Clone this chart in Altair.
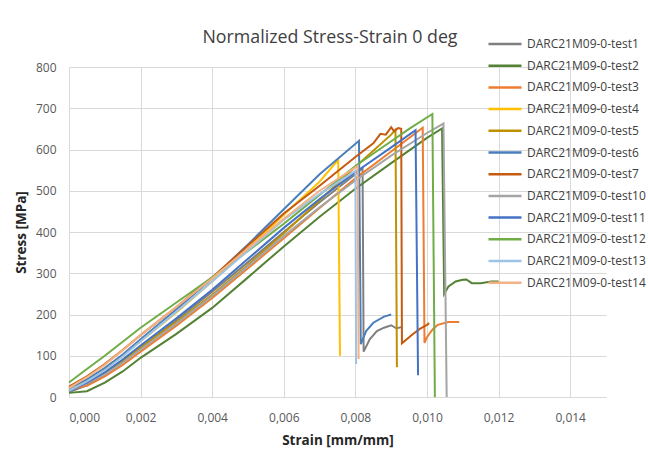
import altair as alt
import pandas as pd

# Series names and Excel-style colours
names = [
    "DARC21M09-0-test1", "DARC21M09-0-test2", "DARC21M09-0-test3",
    "DARC21M09-0-test4", "DARC21M09-0-test5", "DARC21M09-0-test6",
    "DARC21M09-0-test7", "DARC21M09-0-test10", "DARC21M09-0-test11",
    "DARC21M09-0-test12", "DARC21M09-0-test13", "DARC21M09-0-test14",
]
colors = [
    "#7F7F7F", "#548235", "#ED7D31", "#FFC000", "#BF9000", "#4A7EBB",
    "#C55A11", "#A5A5A5", "#4472C4", "#70AD47", "#9DC3E6", "#F4B183",
]

# Strain [mm/mm] / stress [MPa] samples per specimen
strain_1 = [0, 0.0005, 0.001, 0.0015, 0.002, 0.003, 0.004, 0.005, 0.006, 0.007, 0.008, 0.0082,
            0.00823, 0.0084, 0.0086, 0.0088, 0.0090, 0.00915, 0.0093]
stress_1 = [12, 28, 55, 86, 120, 186, 255, 327, 400, 472, 540, 555,
            110, 140, 160, 168, 174, 166, 170]

strain_2 = [0, 0.0005, 0.001, 0.0015, 0.002, 0.003, 0.004, 0.005, 0.006, 0.007, 0.008, 0.009,
            0.010, 0.01042, 0.01048, 0.0106, 0.0108, 0.0110, 0.0111, 0.01125, 0.0115, 0.0118, 0.0120]
stress_2 = [10, 14, 35, 62, 95, 153, 216, 290, 365, 437, 505, 567,
            628, 651, 250, 268, 280, 284, 285, 276, 276, 280, 280]

strain_3 = [0, 0.0005, 0.001, 0.0015, 0.002, 0.003, 0.004, 0.005, 0.006, 0.007, 0.008, 0.009,
            0.00988, 0.00993, 0.0100, 0.01015, 0.0103, 0.0106, 0.0109]
stress_3 = [20, 27, 50, 78, 110, 173, 240, 312, 385, 458, 530, 595,
            653, 131, 145, 163, 175, 182, 182]

strain_4 = [0, 0.0005, 0.001, 0.0015, 0.002, 0.003, 0.004, 0.005, 0.006, 0.007, 0.00752, 0.00757]
stress_4 = [20, 42, 70, 101, 135, 205, 280, 360, 442, 522, 575, 100]

strain_5 = [0, 0.0005, 0.001, 0.0015, 0.002, 0.003, 0.004, 0.005, 0.006, 0.007, 0.008, 0.009,
            0.00912, 0.00916]
stress_5 = [18, 35, 60, 88, 120, 182, 248, 320, 397, 477, 558, 636, 648, 72]

strain_6 = [0, 0.0005, 0.001, 0.0015, 0.002, 0.003, 0.004, 0.005, 0.006, 0.007, 0.0081,
            0.00815, 0.0083, 0.0085, 0.0088, 0.0090]
stress_6 = [22, 42, 70, 103, 140, 212, 288, 370, 455, 540, 621, 128, 160, 180, 195, 200]

strain_7 = [0, 0.0005, 0.001, 0.0015, 0.002, 0.003, 0.004, 0.005, 0.006, 0.007, 0.008, 0.0085,
            0.0087, 0.00885, 0.0090, 0.00908, 0.0092, 0.00928, 0.0093, 0.0096, 0.0098, 0.0100, 0.01006]
stress_7 = [25, 50, 80, 114, 150, 218, 290, 367, 445, 512, 582, 615,
            638, 636, 654, 644, 652, 650, 130, 152, 165, 175, 179]

strain_10 = [0, 0.0005, 0.001, 0.0015, 0.002, 0.003, 0.004, 0.005, 0.006, 0.007, 0.008, 0.009,
             0.010, 0.01046, 0.01055]
stress_10 = [20, 33, 55, 83, 115, 178, 245, 317, 390, 460, 525, 585, 640, 663, 0]

strain_11 = [0, 0.0005, 0.001, 0.0015, 0.002, 0.003, 0.004, 0.005, 0.006, 0.007, 0.008, 0.009,
             0.00968, 0.00975]
stress_11 = [15, 35, 60, 91, 125, 191, 260, 335, 410, 480, 545, 605, 647, 53]

strain_12 = [0, 0.0005, 0.001, 0.0015, 0.002, 0.003, 0.004, 0.005, 0.006, 0.007, 0.008, 0.009,
             0.0095, 0.01015, 0.01022]
stress_12 = [35, 68, 100, 134, 168, 229, 290, 354, 420, 490, 560, 620, 650, 686, 0]

strain_13 = [0, 0.0005, 0.001, 0.0015, 0.002, 0.003, 0.004, 0.005, 0.006, 0.007, 0.0080, 0.00802]
stress_13 = [15, 38, 65, 98, 135, 207, 280, 355, 430, 492, 548, 80]

strain_14 = [0, 0.0005, 0.001, 0.0015, 0.002, 0.003, 0.004, 0.005, 0.006, 0.007, 0.00806, 0.00809]
stress_14 = [22, 48, 78, 113, 150, 218, 288, 360, 432, 500, 560, 92]

x_ticks = [0, 0.002, 0.004, 0.006, 0.008, 0.010, 0.012, 0.014]
y_ticks = [0, 100, 200, 300, 400, 500, 600, 700, 800]

curves = [
    (strain_1, stress_1), (strain_2, stress_2), (strain_3, stress_3),
    (strain_4, stress_4), (strain_5, stress_5), (strain_6, stress_6),
    (strain_7, stress_7), (strain_10, stress_10), (strain_11, stress_11),
    (strain_12, stress_12), (strain_13, stress_13), (strain_14, stress_14),
]

rows = []
for name, (xs, ys) in zip(names, curves):
    for i, (e, s) in enumerate(zip(xs, ys)):
        rows.append({"series": name, "i": i, "strain": e, "stress": s})
df = pd.DataFrame(rows)

FONT = "Open Sans"
GRID = "#D9D9D9"

lines = alt.Chart(df).mark_line(strokeWidth=2, strokeJoin="miter").encode(
    x=alt.X(
        "strain:Q",
        scale=alt.Scale(domain=[0, 0.015], nice=False, zero=True),
        axis=alt.Axis(
            values=x_ticks,
            labelExpr="replace(format(datum.value, '.3f'), '.', ',')",
            title="Strain [mm/mm]",
            grid=True,
            gridColor=GRID,
            domain=True,
            domainColor=GRID,
            ticks=False,
            labelPadding=15,
            titlePadding=10,
        ),
    ),
    y=alt.Y(
        "stress:Q",
        scale=alt.Scale(domain=[0, 800], nice=False),
        axis=alt.Axis(
            values=y_ticks,
            title="Stress [MPa]",
            grid=True,
            gridColor=GRID,
            domain=False,
            ticks=False,
            labelPadding=13,
            titlePadding=7,
        ),
    ),
    color=alt.Color(
        "series:N",
        scale=alt.Scale(domain=names, range=colors),
        legend=alt.Legend(
            title=None,
            orient="none",
            legendX=429,
            legendY=-30,
            padding=0,
            symbolType="M-3,0H3",
            symbolSize=121,
            symbolStrokeWidth=2.5,
            labelOffset=15,
            rowPadding=8.7,
            labelFont=FONT,
            labelFontSize=12,
            labelColor="#404040",
            labelLimit=200,
        ),
    ),
    order="i:Q",
)

title = alt.Chart().mark_text(
    text="Normalized Stress-Strain 0 deg",
    font=FONT,
    fontSize=17.8,
    color="#404040",
    align="center",
    baseline="middle",
).encode(x=alt.value(261), y=alt.value(-29))

chart = alt.layer(lines, title).properties(
    width=537,
    height=330,
    padding={"left": 69, "top": 67, "right": 42, "bottom": 53},
    autosize=alt.AutoSizeParams(type="none"),
).configure_view(
    strokeWidth=0
).configure_axis(
    labelFont=FONT,
    labelFontSize=12,
    labelColor="#595959",
    titleFont=FONT,
    titleFontSize=13.5,
    titleFontWeight="bold",
    titleColor="#262626",
)

chart.save("out.html", embed_options={"renderer": "svg", "actions": False})
